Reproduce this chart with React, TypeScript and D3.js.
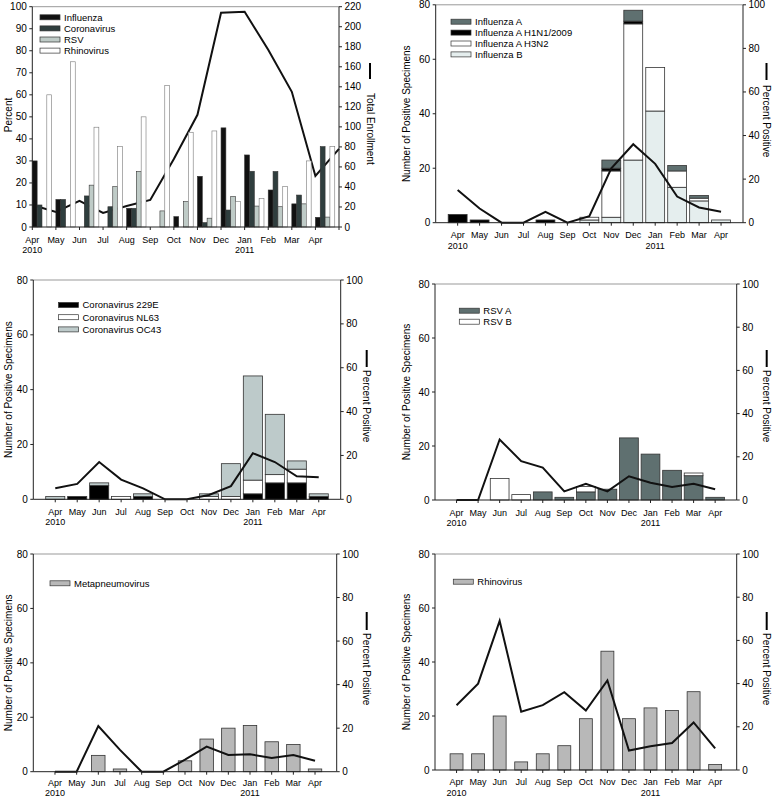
import React from "react";
import * as d3 from "d3";

const FONT = "'Liberation Sans', Arial, Helvetica, sans-serif";

// x categories shared by all panels
const months = ["Apr", "May", "Jun", "Jul", "Aug", "Sep", "Oct", "Nov", "Dec", "Jan", "Feb", "Mar", "Apr"];
const years = ["2010", "", "", "", "", "", "", "", "", "2011", "", "", ""];

// panel 1: percent positive by virus + total enrollment
const p1Influenza = [30, 12.5, 0, 0, 8.5, 0, 4.7, 23, 45, 32.7, 16.8, 10.5, 4.4];
const p1Coronavirus = [10, 12.5, 14.1, 9.2, 8.5, 0, 0, 2, 7.7, 25.3, 25.2, 14.5, 36.5];
const p1RSV = [0, 0, 19, 18.3, 25.2, 7.3, 11.5, 4, 13.8, 9.5, 9.2, 10.5, 4.5];
const p1Rhinovirus = [60, 75, 45.3, 36.5, 50, 64.2, 43, 43.6, 11.5, 13, 18.3, 30, 36.5];
const p1Enrollment = [22, 15, 26, 14, 21, 27, 68, 112, 214, 215, 177, 135, 51, 78];
const p1LeftTicks = [0, 10, 20, 30, 40, 50, 60, 70, 80, 90, 100];
const p1RightTicks = [0, 20, 40, 60, 80, 100, 120, 140, 160, 180, 200, 220];

// panel 2: influenza
const fluB = [0, 0, 0, 0, 0, 0, 1, 2, 23, 41, 13, 8, 1];
const fluH3N2 = [0, 0, 0, 0, 0, 0, 1, 17, 50, 16, 6, 1, 0];
const fluH1N1 = [3, 1, 0, 0, 1, 0, 0, 1, 1, 0, 0, 0, 0];
const fluA = [0, 0, 0, 0, 0, 0, 0, 3, 4, 0, 2, 1, 0];
const fluPercent = [15, 6.5, 0, 0, 5, 0, 3, 25, 36, 27, 12, 7, 5];

// panel 3: coronavirus
const cov229E = [0, 1, 5, 0, 1, 0, 0, 0, 0, 2, 6, 6, 1];
const covNL63 = [0, 0, 0, 1, 0, 0, 0, 1, 1, 5, 3, 5, 0];
const covOC43 = [1, 0, 1, 0, 1, 0, 0, 1, 12, 38, 22, 3, 1];
const covPercent = [5, 7, 17, 9, 5, 0, 0, 2, 6, 21, 17, 10.5, 10];

// panel 4: RSV
const rsvA = [0, 0, 0, 0, 3, 1, 3, 4, 23, 17, 11, 9, 1];
const rsvB = [0, 0, 8, 2, 0, 0, 2, 0, 0, 0, 0, 1, 0];
const rsvPercent = [0, 0, 28, 18, 15, 4, 7.5, 4, 11, 8, 6, 7.5, 5];

// panel 5: metapneumovirus
const hmpv = [0, 0, 6, 1, 0, 0, 4, 12, 16, 17, 11, 10, 1];
const hmpvPercent = [0, 0, 21, 10, 0, 0, 5.5, 11.5, 7.7, 8, 6.3, 7.7, 5];

// panel 6: rhinovirus
const rhino = [6, 6, 20, 3, 6, 9, 19, 44, 19, 23, 22, 29, 2];
const rhinoPercent = [30, 40, 69, 27, 30, 36, 27.5, 41.5, 9, 11, 12.5, 22, 10];

const countTicks = [0, 20, 40, 60, 80];
const pctTicks = [0, 20, 40, 60, 80, 100];

const AXIS = "#222";
const BAR_STROKE = "#333";

const LeftAxis = ({ y, x, ticks }: any) => (
  <g>
    <line x1={x} x2={x} y1={y.range()[0]} y2={y.range()[1]} stroke={AXIS} />
    {ticks.map((t: number) => (
      <g key={t}>
        <line x1={x - 3} x2={x} y1={y(t)} y2={y(t)} stroke={AXIS} />
        <text x={x - 5.5} y={y(t)} dy="0.35em" textAnchor="end" fontSize={10}>{t}</text>
      </g>
    ))}
  </g>
);

const RightAxis = ({ y, x, ticks }: any) => (
  <g>
    <line x1={x} x2={x} y1={y.range()[0]} y2={y.range()[1]} stroke={AXIS} />
    {ticks.map((t: number) => (
      <g key={t}>
        <line x1={x} x2={x + 3} y1={y(t)} y2={y(t)} stroke={AXIS} />
        <text x={x + 5.5} y={y(t)} dy="0.35em" fontSize={10}>{t}</text>
      </g>
    ))}
  </g>
);

const LeftTitle = ({ x, y, label }: any) => (
  <text transform={`translate(${x},${y}) rotate(-90)`} dy="0.35em" textAnchor="middle" fontSize={10}>{label}</text>
);

const RightTitle = ({ x, y0, y1, ty, label }: any) => (
  <g>
    <line x1={x} x2={x} y1={y0} y2={y1} stroke="#000" strokeWidth={2} />
    <text transform={`translate(${x},${ty}) rotate(90)`} dy="0.35em" fontSize={10}>{label}</text>
  </g>
);

const Legend = ({ x, y, dy, items }: any) => (
  <g>
    {items.map((it: any, k: number) => (
      <g key={it.name}>
        <rect x={x} y={y + k * dy - 2.5} width={20} height={5} fill={it.fill} stroke={BAR_STROKE} strokeWidth={0.7} />
        <text x={x + 24} y={y + k * dy} dy="0.35em" fontSize={9.5}>{it.name}</text>
      </g>
    ))}
  </g>
);

const MonthLabels = ({ xs, b, dm = 15.5, dy = 26 }: any) => (
  <g fontSize={9} textAnchor="middle">
    {months.map((m, i) => (
      <g key={i}>
        <text x={xs[i]} y={b + dm}>{m}</text>
        {years[i] && <text x={xs[i]} y={b + dy}>{years[i]}</text>}
      </g>
    ))}
  </g>
);

// top-left: grouped bars on ticks, enrollment line on right axis
const EnrollmentPanel = () => {
  const l = 32.3, r = 339, t = 6.7, b = 227;
  const idx = p1Enrollment.map((_, i) => i);
  const x = d3.scaleLinear().domain([0, 13]).range([l, r]);
  const step = x(1) - x(0);
  const y = d3.scaleLinear().domain([0, 100]).range([b, t]);
  const yR = d3.scaleLinear().domain([0, 220]).range([b, t]);
  const series = [
    { name: "Influenza", values: p1Influenza, fill: "#111" },
    { name: "Coronavirus", values: p1Coronavirus, fill: "#2f3e3e" },
    { name: "RSV", values: p1RSV, fill: "#bfcbc7" },
    { name: "Rhinovirus", values: p1Rhinovirus, fill: "#fff" },
  ];
  const inner = d3.scaleBand().domain(series.map((s) => s.name)).range([0, step * 0.82]);
  const line = d3.line<number>().x((_, i) => x(i)).y((v) => yR(v));
  return (
    <g>
      <line x1={l} x2={r} y1={t} y2={t} stroke="#999" />
      <path d={line(p1Enrollment) || ""} fill="none" stroke="#111" strokeWidth={2} />
      {series.map((s) =>
        s.values.map((v, i) =>
          v > 0 ? (
            <rect key={s.name + i} x={x(i) + inner(s.name)!} y={y(v)} width={inner.bandwidth()} height={b - y(v)}
              fill={s.fill} stroke={s.name === "Rhinovirus" ? "#777" : BAR_STROKE} strokeWidth={0.6} />
          ) : null
        )
      )}
      <LeftAxis y={y} x={l} ticks={p1LeftTicks} />
      <RightAxis y={yR} x={r} ticks={p1RightTicks} />
      <line x1={l} x2={r} y1={b} y2={b} stroke={AXIS} />
      {idx.map((i) => <line key={i} x1={x(i)} x2={x(i)} y1={b} y2={b + 3} stroke={AXIS} />)}
      <MonthLabels xs={months.map((_, i) => x(i))} b={b} />
      <LeftTitle x={8.5} y={115} label="Percent" />
      <RightTitle x={370} y0={63} y1={79} ty={93} label="Total Enrollment" />
      <Legend x={40} y={17.3} dy={11.1} items={series} />
    </g>
  );
};

const StackPanel = ({ box, layers, legendNames, percent, barFrac, legend, leftX, right, dm, dy }: any) => {
  const { l, r, t, b } = box;
  const idx = months.map((_, i) => i);
  const x = d3.scalePoint<number>().domain(idx).range([l, r]).padding(1);
  const y = d3.scaleLinear().domain([0, 80]).range([b, t]);
  const yR = d3.scaleLinear().domain([0, 100]).range([b, t]);
  const keys = layers.map((s: any) => s.name);
  const rows = idx.map((i) => Object.fromEntries(layers.map((s: any) => [s.name, s.values[i]])));
  const stacked = d3.stack<any>().keys(keys)(rows);
  const bw = x.step() * barFrac;
  const line = d3.line<number>().x((_, i) => x(i)!).y((v) => yR(v));
  const fillOf = (n: string) => layers.find((s: any) => s.name === n).fill;
  return (
    <g>
      <line x1={l} x2={r} y1={t} y2={t} stroke="#999" />
      {stacked.map((layer: any) =>
        layer.map((d: any, i: number) =>
          d[1] - d[0] > 0 ? (
            <rect key={layer.key + i} x={x(i)! - bw / 2} y={y(d[1])} width={bw} height={y(d[0]) - y(d[1])}
              fill={fillOf(layer.key)} stroke={BAR_STROKE} strokeWidth={0.8} />
          ) : null
        )
      )}
      <path d={line(percent) || ""} fill="none" stroke="#111" strokeWidth={2} strokeLinejoin="miter" />
      <LeftAxis y={y} x={l} ticks={countTicks} />
      <RightAxis y={yR} x={r} ticks={pctTicks} />
      <line x1={l} x2={r} y1={b} y2={b} stroke={AXIS} />
      {idx.map((i) => <line key={i} x1={x(i)} x2={x(i)} y1={b} y2={b + 3} stroke={AXIS} />)}
      <MonthLabels xs={idx.map((i) => x(i))} b={b} dm={dm} dy={dy} />
      <LeftTitle x={leftX} y={(t + b) / 2} label="Number of Positive Specimens" />
      <RightTitle x={right.x} y0={right.y0} y1={right.y1} ty={right.ty} label="Percent Positive" />
      <Legend x={legend.x} y={legend.y} dy={legend.dy} items={legendNames.map((n: string) => ({ name: n, fill: fillOf(n) }))} />
    </g>
  );
};

export default function App() {
  return (
    <svg width={774} height={797} style={{ position: "absolute", left: 0, top: 0, background: "#fff" }} fontFamily={FONT}>
      <EnrollmentPanel />
      <StackPanel
        box={{ l: 435.7, r: 743, t: 4.8, b: 222.7 }}
        layers={[
          { name: "Influenza B", values: fluB, fill: "#e5eeee" },
          { name: "Influenza A H3N2", values: fluH3N2, fill: "#fff" },
          { name: "Influenza A H1N1/2009", values: fluH1N1, fill: "#000" },
          { name: "Influenza A", values: fluA, fill: "#5f7070" },
        ]}
        legendNames={["Influenza A", "Influenza A H1N1/2009", "Influenza A H3N2", "Influenza B"]}
        percent={fluPercent}
        barFrac={0.86}
        legend={{ x: 451, y: 21.7, dy: 10.9 }}
        leftX={406}
        right={{ x: 766.5, y0: 63, y1: 80, ty: 85 }}
      />
      <StackPanel
        box={{ l: 33.3, r: 340.7, t: 280, b: 499.3 }}
        layers={[
          { name: "Coronavirus 229E", values: cov229E, fill: "#000" },
          { name: "Coronavirus NL63", values: covNL63, fill: "#fff" },
          { name: "Coronavirus OC43", values: covOC43, fill: "#bdcaca" },
        ]}
        legendNames={["Coronavirus 229E", "Coronavirus NL63", "Coronavirus OC43"]}
        percent={covPercent}
        barFrac={0.87}
        legend={{ x: 58.5, y: 305, dy: 12.2 }}
        leftX={8.5}
        right={{ x: 366.7, y0: 350, y1: 367, ty: 370 }}
      />
      <StackPanel
        box={{ l: 435, r: 736.7, t: 284, b: 500 }}
        layers={[
          { name: "RSV A", values: rsvA, fill: "#5f7070" },
          { name: "RSV B", values: rsvB, fill: "#fff" },
        ]}
        legendNames={["RSV A", "RSV B"]}
        percent={rsvPercent}
        barFrac={0.87}
        legend={{ x: 459.3, y: 310.7, dy: 11 }}
        leftX={406}
        right={{ x: 766.7, y0: 350, y1: 367, ty: 370 }}
      />
      <StackPanel
        box={{ l: 33.3, r: 336.7, t: 554, b: 771.7 }}
        layers={[{ name: "Metapneumovirus", values: hmpv, fill: "#b8b8b8" }]}
        legendNames={["Metapneumovirus"]}
        percent={hmpvPercent}
        barFrac={0.62}
        legend={{ x: 50, y: 583.3, dy: 11 }}
        leftX={8.5}
        right={{ x: 366.7, y0: 612, y1: 630, ty: 633 }}
        dm={14.5}
        dy={24}
      />
      <StackPanel
        box={{ l: 435, r: 736.7, t: 554, b: 770 }}
        layers={[{ name: "Rhinovirus", values: rhino, fill: "#b8b8b8" }]}
        legendNames={["Rhinovirus"]}
        percent={rhinoPercent}
        barFrac={0.6}
        legend={{ x: 453.3, y: 581.7, dy: 11 }}
        leftX={406}
        right={{ x: 766.7, y0: 612, y1: 630, ty: 633 }}
        dm={15}
        dy={25.5}
      />
    </svg>
  );
}
